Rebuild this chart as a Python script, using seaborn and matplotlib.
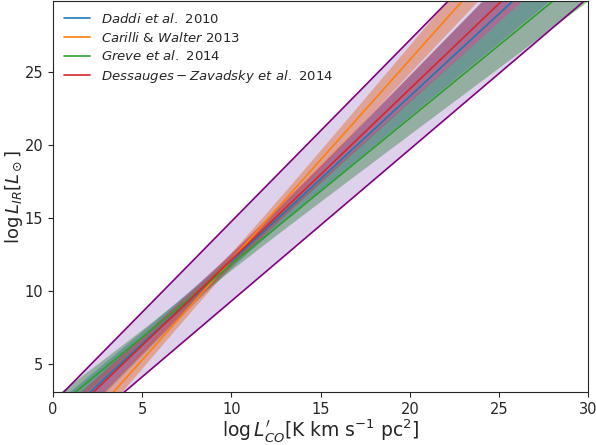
import matplotlib
matplotlib.use("Agg")
import matplotlib.pyplot as plt
import seaborn as sns
import numpy as np
import pandas as pd

# log L_IR = slope * log L'_CO + intercept
labels = [r"$Daddi\ et\ al.$ 2010",
          r"$Carilli$ & $Walter$ 2013",
          r"$Greve\ et\ al.$ 2014",
          r"$Dessauges-Zavadsky\ et\ al.$ 2014"]
slopes = [1.13, 1.37, 1.00, 1.17]
intercepts = [0.75, -1.55, 1.85, 0.45]
# band half-width: slope error away from the pivot, plus a minimum width at the pivot
slope_errs = [0.13, 0.085, 0.09, 0.08]
pivots = [10.0, 10.0, 8.0, 10.0]
min_widths = [0.5, 0.45, 0.4, 0.45]

# outer envelope (purple)
env_slopes = [1.242, 1.0385]
env_intercepts = [2.36, -1.05]

x_range = [0, 30]
y_range = [3.1, 29.85]


def relation(x, a, b):
    return a * x + b


def plot_relations(save_path="out.png"):
    sns.set_style("ticks")
    fig, ax = plt.subplots(figsize=(5.96, 4.45), dpi=100)
    colors = sns.color_palette("tab10")

    x = np.linspace(x_range[0], x_range[1], 301)

    for i, lab in enumerate(labels):
        mid = relation(x, slopes[i], intercepts[i])
        half = np.hypot(slope_errs[i] * (x - pivots[i]), min_widths[i])
        ax.fill_between(x, mid - half, mid + half, color=colors[i], alpha=0.5, lw=0)

    # purple envelope goes over the bands
    up = relation(x, env_slopes[0], env_intercepts[0])
    lo = relation(x, env_slopes[1], env_intercepts[1])
    ax.fill_between(x, lo, up, color=colors[4], alpha=0.3, lw=0)
    sns.lineplot(x=x, y=up, color="purple", lw=1.2, ax=ax)
    sns.lineplot(x=x, y=lo, color="purple", lw=1.2, ax=ax)

    for i, lab in enumerate(labels):
        df = pd.DataFrame({"x": x, "y": relation(x, slopes[i], intercepts[i])})
        sns.lineplot(data=df, x="x", y="y", color=colors[i], lw=1.2, label=lab, ax=ax)

    ax.set_xlim(x_range)
    ax.set_ylim(y_range)
    ax.set_xlabel(r"$\log L^{\prime}_{CO}$[K km s$^{-1}$ pc$^2$]", fontsize=13.5, labelpad=0)
    ax.set_ylabel(r"$\log L_{IR}[L_\odot]$", fontsize=13, labelpad=0)
    ax.tick_params(labelsize=10.5)
    ax.legend(loc="upper left", frameon=False, fontsize=9.5, labelspacing=0.35,
              borderaxespad=0.4, handlelength=2.0)
    fig.subplots_adjust(left=0.089, right=0.987, top=0.997, bottom=0.119)
    fig.savefig(save_path, dpi=100)
    plt.close(fig)


plot_relations()
